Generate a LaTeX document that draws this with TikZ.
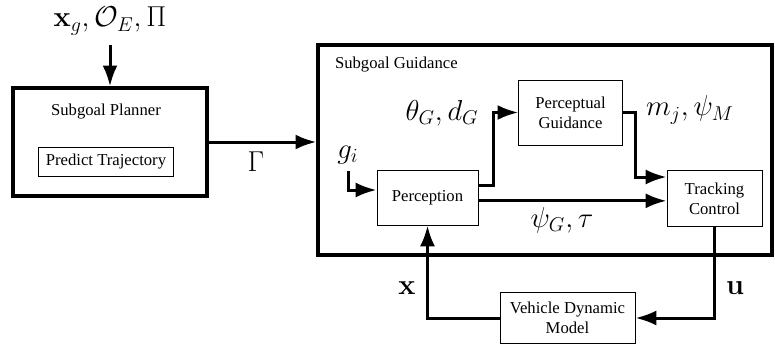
\documentclass[tikz,border=0pt]{standalone}
\usepackage{amsmath,amsfonts,amssymb}
\usepackage[no-math]{fontspec}
\setmainfont{Liberation Serif}
\usepackage{tikz}
\usetikzlibrary{arrows.meta}
\usetikzlibrary{positioning}

\begin{document}
\begin{tikzpicture}[x=0.6pt,y=-0.6pt,>={Latex[length=12.5pt,width=9pt]},line width=1.8pt,on grid,
        block/.style={draw,line width=0.6pt,align=center},
        outer/.style={draw,line width=2pt},
        lbl/.style={font=\LARGE}]
        \useasboundingbox (0,0) rectangle (775,345);
        % planner
        \node[lbl,inner sep=1pt] (goal) at (110,21) {$\mathbf{x}_g,\mathcal{O}_E,\Pi$};
        \node[outer,minimum width=116.4pt,minimum height=64.8pt] (plan) at (110,142) {};
        \node (plantitle) at (106,112) {Subgoal Planner};
        \node[block,minimum width=81pt,minimum height=17.4pt] (predict) [below=30pt of plantitle] {Predict Trajectory};
        \draw[->,shorten <=4pt] (goal) -- (plan);
        % guidance
        \node[outer,minimum width=272.4pt,minimum height=126pt] (guid) at (545,150) {};
        \node[anchor=north west] (guidtitle) at (328,50) {Subgoal Guidance};
        \node[lbl] (gamma) at (256,162) {$\Gamma$};
        \draw[->] (plan.east) -- (plan.east -| guid.west);
        \node[block,minimum width=60.6pt,minimum height=33pt] (perc) at (427.5,197.5) {Perception};
        \node[block,minimum width=62pt,minimum height=39pt] (pg) at (570.5,112.5) {Perceptual\\Guidance};
        \node[block,minimum width=57pt,minimum height=34pt] (track) at (714.5,198.5) {Tracking\\Control};
        \node[block,minimum width=81pt,minimum height=31pt] (veh) at (567.5,318) {Vehicle Dynamic\\Model};
        \node[lbl] (gi) at (348,155) {$g_i$};
        \node[lbl] (thetad) at (442,113) {$\theta_G,d_G$};
        \node[lbl] (mpsi) at (690,110) {$m_j,\psi_M$};
        \node[lbl] (psitau) at (562,220) {$\psi_G,\tau$};
        \node[lbl] (xlab) at (407,288) {$\mathbf{x}$};
        \node[lbl] (ulab) at (735,288) {$\mathbf{u}$};
        \draw[->] (gi.south) |- ([yshift=4.5pt]perc.west);
        \draw[->] ([yshift=7.5pt]perc.east) -- ++(15,0) |- (pg.west);
        \draw[->] ([yshift=-2pt]perc.east) -- ([yshift=-2pt]perc.east -| track.west);
        \draw[->] (pg.east) -- ++(13,0) |- ([yshift=12.9pt]track.west);
        \draw[->] (track.south) |- (veh.east);
        \draw[->] (veh.west) -| (perc.south);
\end{tikzpicture}
\end{document}
